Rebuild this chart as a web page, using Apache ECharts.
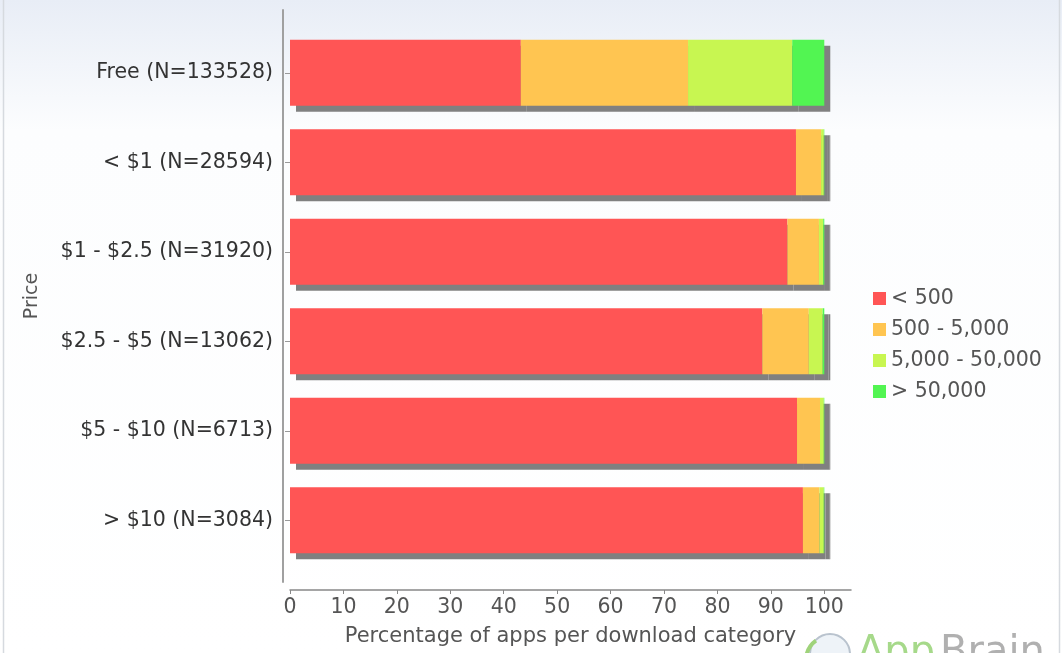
<!DOCTYPE html>
<html>
<head>
<meta charset="utf-8">
<script src="https://cdn.jsdelivr.net/npm/echarts@6/dist/echarts.min.js"></script>
<style>
  html, body { margin: 0; padding: 0; background: #fff; }
  #chart { width: 1062px; height: 653px; }
</style>
</head>
<body>
<div id="chart"></div>
<script>
// Price buckets (with app counts) on the category axis
const categories = [
  'Free (N=133528)',
  '< $1 (N=28594)',
  '$1 - $2.5 (N=31920)',
  '$2.5 - $5 (N=13062)',
  '$5 - $10 (N=6713)',
  '> $10 (N=3084)'
];

// Download categories, one stacked series each (percent of apps)
const seriesNames = ['< 500', '500 - 5,000', '5,000 - 50,000', '> 50,000'];
const under500 = [43.2, 94.7, 93.1, 88.4, 94.9, 96.0];
const from500To5000 = [31.3, 4.7, 5.9, 8.7, 4.3, 3.1];
const from5000To50000 = [19.5, 0.5, 0.8, 2.6, 0.7, 0.8];
const over50000 = [6.0, 0.1, 0.2, 0.3, 0.1, 0.1];

const xTicks = [0, 10, 20, 30, 40, 50, 60, 70, 80, 90, 100];

const seriesColors = ['#FF5555', '#FFC551', '#C8F651', '#52F552'];
const seriesData = [under500, from500To5000, from5000To50000, over50000];

const FONT = 'DejaVu Sans';
const FS = 20.5;

const chart = echarts.init(document.getElementById('chart'), null, { renderer: 'canvas' });

const series = seriesNames.map((name, i) => ({
  name: name,
  type: 'bar',
  stack: 'total',
  xAxisIndex: 0,
  yAxisIndex: 0,
  barWidth: 66,
  data: seriesData[i],
  itemStyle: {
    color: seriesColors[i],
    shadowColor: '#808080',
    shadowBlur: 0,
    shadowOffsetX: 6,
    shadowOffsetY: 6
  },
  emphasis: { disabled: true }
}));

chart.setOption({
  animation: false,
  backgroundColor: {
    type: 'linear', x: 0, y: 0, x2: 0, y2: 1,
    colorStops: [
      { offset: 0, color: '#e8edf6' },
      { offset: 0.2, color: '#fcfdfe' },
      { offset: 1, color: '#ffffff' }
    ]
  },
  textStyle: { fontFamily: FONT },
  grid: [
    { left: 290, right: 211, top: 28, bottom: 88, outerBoundsMode: 'none' },
    { left: 283, width: 1, top: 10, bottom: 71, outerBoundsMode: 'none' }
  ],
  legend: {
    orient: 'vertical',
    left: 868,
    top: 283,
    itemWidth: 13,
    itemHeight: 13,
    itemGap: 10,
    icon: 'rect',
    data: seriesNames,
    textStyle: { fontFamily: FONT, fontSize: FS, color: '#555', lineHeight: 20.5 }
  },
  xAxis: [
    {
      type: 'value',
      gridIndex: 0,
      min: 0,
      max: 105,
      interval: 10,
      offset: 25,
      axisLine: { show: true, lineStyle: { color: '#888', width: 1.5 } },
      axisTick: { show: true, length: 4, customValues: xTicks, lineStyle: { color: '#888' } },
      axisLabel: { customValues: xTicks, fontFamily: FONT, fontSize: FS, color: '#555', margin: 7 },
      splitLine: { show: false },
      name: 'Percentage of apps per download category',
      nameLocation: 'middle',
      nameGap: 36,
      nameTextStyle: { fontFamily: FONT, fontSize: 21, color: '#555' }
    },
    { type: 'value', gridIndex: 1, show: false }
  ],
  yAxis: [
    {
      type: 'category',
      gridIndex: 0,
      data: categories,
      inverse: true,
      offset: 7,
      axisLine: { show: false },
      axisTick: { show: true, alignWithLabel: true, length: 5, lineStyle: { color: '#999' } },
      axisLabel: { fontFamily: FONT, fontSize: FS, color: '#333', margin: 10 },
      splitLine: { show: false }
    },
    {
      type: 'value',
      gridIndex: 1,
      min: 0,
      max: 1,
      axisLine: { show: true, lineStyle: { color: '#a0a0a0', width: 2 } },
      axisTick: { show: false },
      axisLabel: { show: false },
      splitLine: { show: false },
      name: 'Price',
      nameLocation: 'middle',
      nameRotate: 90,
      nameGap: 241,
      nameTextStyle: { fontFamily: FONT, fontSize: 19, color: '#555' }
    }
  ],
  series: series,
  graphic: [
    // frame edges
    { type: 'line', shape: { x1: 3.5, y1: 0, x2: 3.5, y2: 653 }, style: { stroke: '#d6dadf', lineWidth: 1.5 }, silent: true },
    { type: 'line', shape: { x1: 1059.5, y1: 0, x2: 1059.5, y2: 653 }, style: { stroke: '#d6dadf', lineWidth: 1.5 }, silent: true },
    // AppBrain mark
    { type: 'circle', shape: { cx: 830, cy: 654, r: 20 }, style: { stroke: '#b9c3ce', lineWidth: 2, fill: '#eef3f8' }, silent: true },
    { type: 'arc', shape: { cx: 830, cy: 660, r: 24, startAngle: Math.PI * 1.05, endAngle: Math.PI * 1.3 }, style: { stroke: '#9fd37a', lineWidth: 4, fill: null }, silent: true },
    { type: 'text', left: 857, top: 634, style: { text: 'App', fontFamily: FONT, fontSize: 40, fill: '#a6d98a' }, silent: true },
    { type: 'text', left: 940, top: 634, style: { text: 'Brain', fontFamily: FONT, fontSize: 40, fill: '#b0b0b0' }, silent: true }
  ]
});
</script>
</body>
</html>
